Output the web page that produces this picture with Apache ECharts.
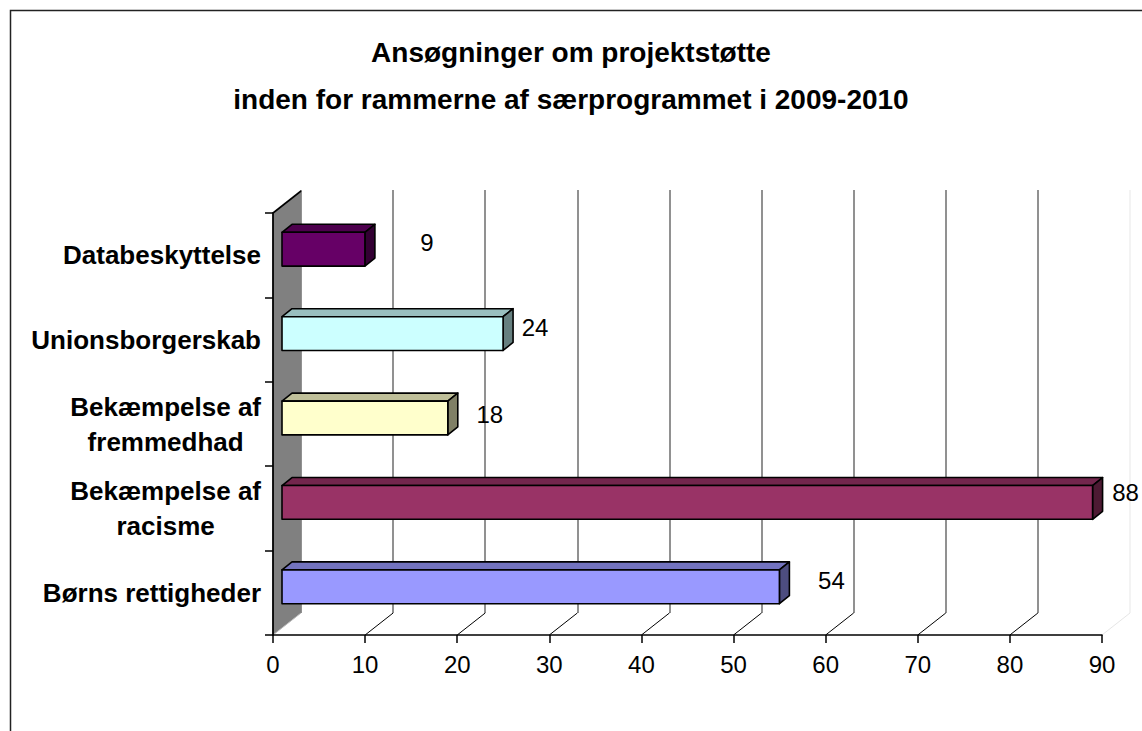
<!DOCTYPE html>
<html><head><meta charset="utf-8">
<script src="https://cdn.jsdelivr.net/npm/echarts@6/dist/echarts.min.js"></script>
<style>html,body{margin:0;padding:0;background:#fff}#c{width:1142px;height:731px}</style>
</head><body><div id="c"></div>
<script>
// ---- data ----
const titleLines = ['Ansøgninger om projektstøtte', 'inden for rammerne af særprogrammet i 2009-2010'];
const categories = ['Børns rettigheder', 'Bekæmpelse af\nracisme', 'Bekæmpelse af\nfremmedhad', 'Unionsborgerskab', 'Databeskyttelse'];
const values = [54, 88, 18, 24, 9];
const xTickValues = [0, 10, 20, 30, 40, 50, 60, 70, 80, 90];
const axisMin = 0, axisMax = 90, axisStep = 10;

// ---- styles / layout ----
const FONT = '"Liberation Sans", Arial, sans-serif';
const palette = [
  {front: '#9999ff', top: '#7373bf', side: '#4d4d80'},
  {front: '#993366', top: '#73264d', side: '#4d1a33'},
  {front: '#ffffcc', top: '#bfbf99', side: '#808066'},
  {front: '#ccffff', top: '#99bfbf', side: '#668080'},
  {front: '#660066', top: '#4d004d', side: '#330033'}
];
const labelNudge = [[61, -12], [42, -16], [51, -10], [41, -12], [71, -13]];
const DEPTH = [28, -22];     // wall/floor depth
const BAR_OFF = [9, -6];     // bar front offset within depth
const BAR_D = [10, -8];      // bar depth

function renderBar(params, api) {
  const v = api.value(0), i = api.value(1);
  const p0 = api.coord([axisMin, i]);
  const p1 = api.coord([v, i]);
  const band = api.size([0, 1])[1];
  const h = band * 0.4;
  const x0 = p0[0] + BAR_OFF[0], x1 = p1[0] + BAR_OFF[0];
  const yT = p0[1] + BAR_OFF[1] - h / 2, yB = yT + h;
  const dx = BAR_D[0], dy = BAR_D[1];
  const c = palette[i];
  const st = {stroke: '#000', lineWidth: 1.6, lineJoin: 'round'};
  return {type: 'group', children: [
    {type: 'polygon', shape: {points: [[x0, yT], [x0 + dx, yT + dy], [x1 + dx, yT + dy], [x1, yT]]}, style: Object.assign({fill: c.top}, st)},
    {type: 'polygon', shape: {points: [[x1, yT], [x1 + dx, yT + dy], [x1 + dx, yB + dy], [x1, yB]]}, style: Object.assign({fill: c.side}, st)},
    {type: 'rect', shape: {x: x0, y: yT, width: x1 - x0, height: h}, style: Object.assign({fill: c.front}, st)},
    {type: 'text', style: {text: String(v), x: p1[0] + labelNudge[i][0], y: p0[1] + labelNudge[i][1],
      align: 'center', verticalAlign: 'middle', fill: '#000', font: '24px ' + FONT}}
  ]};
}

function renderFloor(params, api) {
  const t = api.value(0);
  const cs = params.coordSys;
  const bottom = cs.y + cs.height, top = cs.y;
  const p = api.coord([t, 0]);
  const x = p[0];
  const children = [];
  if (t === axisMin) {
    children.push({type: 'polygon', z2: 0, shape: {points: [[x, top], [x + DEPTH[0], top + DEPTH[1]], [x + DEPTH[0], bottom + DEPTH[1]], [x, bottom]]},
      style: {fill: '#808080'}});
    children.push({type: 'line', z2: 1, shape: {x1: x, y1: top, x2: x + DEPTH[0], y2: top + DEPTH[1]}, style: {stroke: '#000', lineWidth: 1.6}});
    children.push({type: 'line', z2: 1, shape: {x1: x, y1: bottom, x2: x + DEPTH[0], y2: bottom + DEPTH[1]}, style: {stroke: '#bbbbbb', lineWidth: 1}});
  } else {
    const col = t === axisMax ? '#e6e6e6' : '#000';
    children.push({type: 'line', shape: {x1: x, y1: bottom, x2: x + DEPTH[0], y2: bottom + DEPTH[1]}, style: {stroke: col, lineWidth: 1}});
  }
  return {type: 'group', children};
}

const splitColors = xTickValues.map(t => t === axisMax ? '#f2f2f2' : '#858585');

const chart = echarts.init(document.getElementById('c'), null, {renderer: 'svg'});
chart.setOption({
  backgroundColor: '#fff',
  animation: false,
  title: {
    text: titleLines.join('\n'), left: 'center', top: 24,
    textStyle: {fontFamily: FONT, fontSize: 28, fontWeight: 'bold', color: '#000', lineHeight: 47}
  },
  graphic: [{type: 'rect', left: 8, top: 8, shape: {width: 1170, height: 780}, style: {fill: 'none', stroke: '#222', lineWidth: 1.5}, silent: true}],
  grid: [
    {left: 273, right: 40, top: 213, bottom: 96},
    {left: 301, right: 12, top: 190, bottom: 118}
  ],
  xAxis: [
    {type: 'value', gridIndex: 0, min: axisMin, max: axisMax, interval: axisStep, z: 6,
      axisLine: {show: true, lineStyle: {color: '#000', width: 1.5}},
      axisTick: {show: true, length: 8, lineStyle: {color: '#000', width: 1.5}},
      axisLabel: {margin: 17, fontFamily: FONT, fontSize: 24, color: '#000',
        formatter: (v) => String(xTickValues[Math.round((v - axisMin) / axisStep)])},
      splitLine: {show: false}},
    {type: 'value', gridIndex: 1, min: axisMin, max: axisMax, interval: axisStep,
      axisLine: {show: false}, axisTick: {show: false}, axisLabel: {show: false},
      splitLine: {show: true, lineStyle: {color: splitColors, width: 1.8}}}
  ],
  yAxis: [
    {type: 'category', gridIndex: 0, data: categories, z: 6,
      axisLine: {show: true, lineStyle: {color: '#000', width: 1.8}},
      axisTick: {show: true, length: 8, lineStyle: {color: '#000', width: 1.5}},
      axisLabel: {margin: 12, formatter: (v) => '{c|' + v + '}',
        rich: {c: {fontFamily: FONT, fontSize: 26, fontWeight: 'bold', color: '#000', lineHeight: 35, align: 'center'}}},
      splitLine: {show: false}},
    {type: 'value', gridIndex: 1, show: false, min: 0, max: 1}
  ],
  series: [
    {type: 'custom', xAxisIndex: 0, yAxisIndex: 0, z: 1, renderItem: renderFloor,
      data: xTickValues.map(t => [t, 0]), encode: {x: 0, y: 1}, silent: true},
    {type: 'custom', xAxisIndex: 0, yAxisIndex: 0, z: 3, renderItem: renderBar,
      data: values.map((v, i) => [v, i]), encode: {x: 0, y: 1}}
  ]
});
</script></body></html>
